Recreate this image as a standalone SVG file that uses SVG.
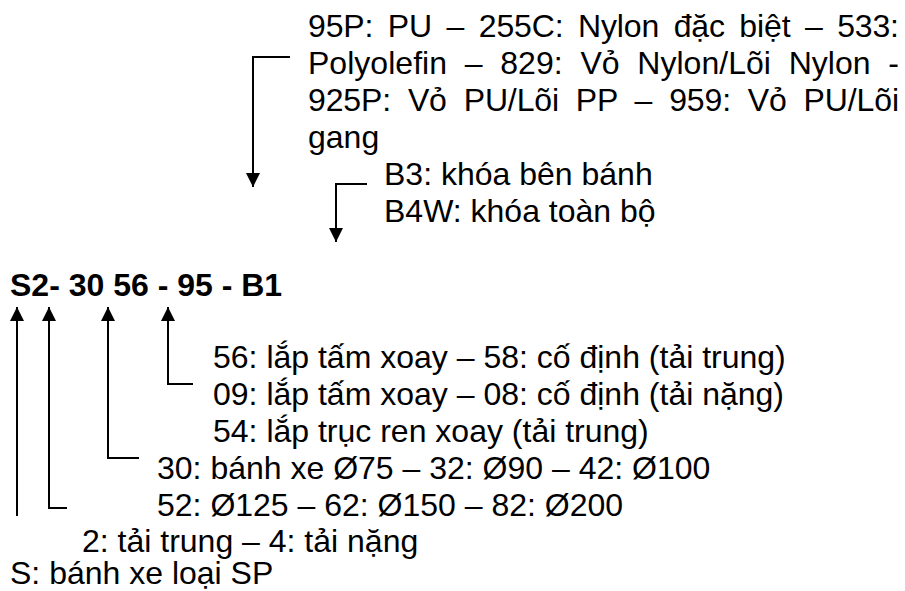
<svg xmlns="http://www.w3.org/2000/svg" width="905" height="591" viewBox="0 0 905 591">
<style>
.t{font-family:"Liberation Sans",Arial,sans-serif;font-size:32px;fill:#000}
.b{font-weight:bold}
.c{fill:none;stroke:#000;stroke-width:2}
</style>
<defs>
<marker id="ah" viewBox="0 0 14 14" refX="14" refY="7" markerWidth="14" markerHeight="14" markerUnits="userSpaceOnUse" orient="auto">
<path d="M0,0 L14,7 L0,14 Z" fill="#000"/>
</marker>
</defs>
<rect width="905" height="591" fill="#fff"/>
<g id="connectors">
<polyline class="c" points="290,57 253,57 253,187" marker-end="url(#ah)"/>
<polyline class="c" points="367,184 336,184 336,242" marker-end="url(#ah)"/>
<polyline class="c" points="17,516 17,307" marker-end="url(#ah)"/>
<polyline class="c" points="67,508 49,508 49,307" marker-end="url(#ah)"/>
<polyline class="c" points="139,458 108,458 108,307" marker-end="url(#ah)"/>
<polyline class="c" points="193,384 168,384 168,307" marker-end="url(#ah)"/>
</g>
<g id="code">
<text class="t b" x="10" y="296">S2- 30 56 - 95 - B1</text>
</g>
<g id="material">
<text class="t" x="308" y="37" word-spacing="5.8" textLength="591" lengthAdjust="spacing">95P: PU – 255C: Nylon đặc biệt – 533:</text>
<text class="t" x="308" y="74" word-spacing="8.8" textLength="591" lengthAdjust="spacing">Polyolefin – 829: Vỏ Nylon/Lõi Nylon -</text>
<text class="t" x="308" y="111" word-spacing="8.1" textLength="591" lengthAdjust="spacing">925P: Vỏ PU/Lõi PP – 959: Vỏ PU/Lõi</text>
<text class="t" x="308" y="148">gang</text>
</g>
<g id="brake">
<text class="t" x="384" y="185">B3: khóa bên bánh</text>
<text class="t" x="384" y="222">B4W: khóa toàn bộ</text>
</g>
<g id="mount">
<text class="t" x="213" y="368">56: lắp tấm xoay – 58: cố định (tải trung)</text>
<text class="t" x="213" y="405">09: lắp tấm xoay – 08: cố định (tải nặng)</text>
<text class="t" x="213" y="442">54: lắp trục ren xoay (tải trung)</text>
</g>
<g id="wheel">
<text class="t" x="157" y="479">30: bánh xe Ø75 – 32: Ø90 – 42: Ø100</text>
<text class="t" x="157" y="516">52: Ø125 – 62: Ø150 – 82: Ø200</text>
</g>
<g id="load">
<text class="t" x="82" y="552">2: tải trung – 4: tải nặng</text>
</g>
<g id="type">
<text class="t" x="10" y="584">S: bánh xe loại SP</text>
</g>
</svg>
